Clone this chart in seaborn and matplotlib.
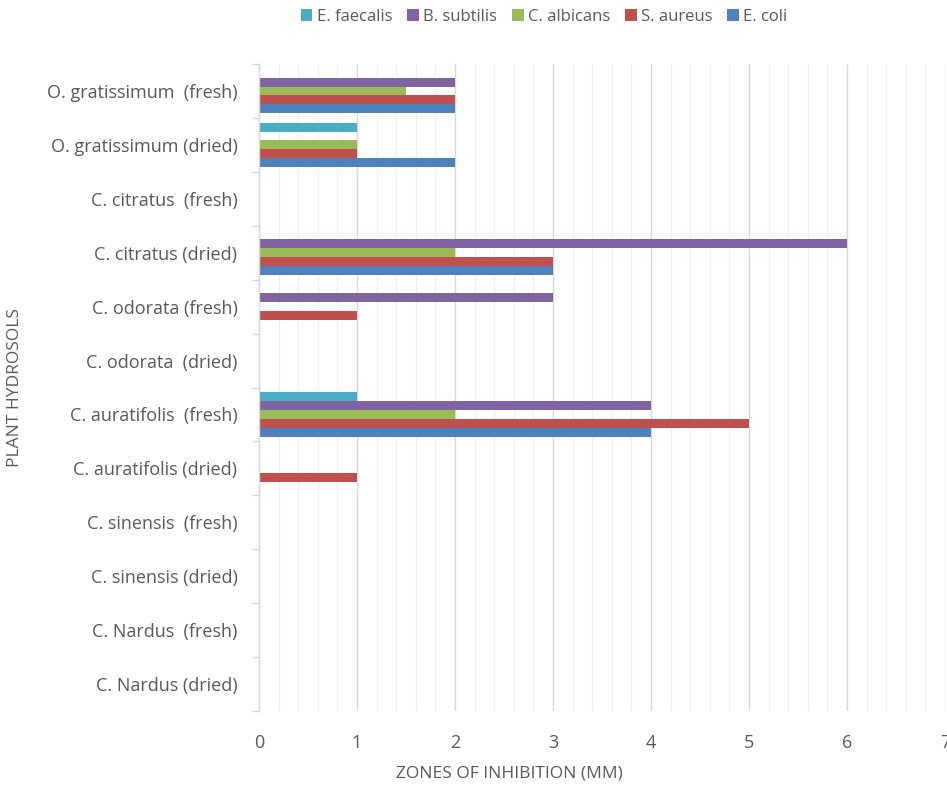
import matplotlib
matplotlib.use("Agg")
import matplotlib.pyplot as plt
from matplotlib.patches import Patch
from matplotlib.ticker import MultipleLocator, FixedLocator
import numpy as np
import pandas as pd
import seaborn as sns

# Plant hydrosols, top to bottom
plants = [
    "O. gratissimum  (fresh)",
    "O. gratissimum (dried)",
    "C. citratus  (fresh)",
    "C. citratus (dried)",
    "C. odorata (fresh)",
    "C. odorata  (dried)",
    "C. auratifolis  (fresh)",
    "C. auratifolis (dried)",
    "C. sinensis  (fresh)",
    "C. sinensis (dried)",
    "C. Nardus  (fresh)",
    "C. Nardus (dried)",
]

# Zones of inhibition (mm) per test organism
e_coli      = [2, 2, 0, 3, 0, 0, 4, 0, 0, 0, 0, 0]
s_aureus    = [2, 1, 0, 3, 1, 0, 5, 1, 0, 0, 0, 0]
c_albicans  = [1.5, 1, 0, 2, 0, 0, 2, 0, 0, 0, 0, 0]
b_subtilis  = [2, 0, 0, 6, 3, 0, 4, 0, 0, 0, 0, 0]
e_faecalis  = [0, 1, 0, 0, 0, 0, 1, 0, 0, 0, 0, 0]

organisms = ["E. faecalis", "B. subtilis", "C. albicans", "S. aureus", "E. coli"]
series = {
    "E. faecalis": e_faecalis,
    "B. subtilis": b_subtilis,
    "C. albicans": c_albicans,
    "S. aureus": s_aureus,
    "E. coli": e_coli,
}
colors = ["#4BACC6", "#8064A2", "#9BBB59", "#C0504D", "#4F81BD"]

rows = []
for org in organisms:
    for plant, v in zip(plants, series[org]):
        rows.append({"plant": plant, "organism": org, "zone": v})
df = pd.DataFrame(rows)

sns.set_style("white")
plt.rcParams["font.family"] = ["Open Sans", "DejaVu Sans"]

fig = plt.figure(figsize=(9.47, 7.85), dpi=100)
ax = fig.add_axes([259 / 947, 1 - 711 / 785, 686 / 947, (711 - 64) / 785])

sns.barplot(
    data=df, x="zone", y="plant", hue="organism",
    order=plants, hue_order=organisms, palette=colors,
    orient="h", width=0.82, linewidth=0, saturation=1,
    errorbar=None, ax=ax, legend=False,
)

ax.set_xlim(0, 7)
ax.set_ylim(len(plants) - 0.5, -0.5)

# gridlines: major every 1 mm, minor every 0.2 mm
ax.xaxis.set_major_locator(MultipleLocator(1))
ax.xaxis.set_minor_locator(MultipleLocator(0.2))
ax.grid(axis="x", which="major", color="#D9D9D9", linewidth=1.0, zorder=0)
ax.grid(axis="x", which="minor", color="#F0F0F0", linewidth=1.0, zorder=0)
ax.set_axisbelow(True)

for s in ["top", "right", "bottom"]:
    ax.spines[s].set_visible(False)
ax.spines["left"].set_color("#D9D9D9")
ax.spines["left"].set_linewidth(1.0)

# category axis: tick marks on the boundaries between groups
ax.yaxis.set_minor_locator(FixedLocator(np.arange(-0.5, len(plants), 1.0)))
ax.tick_params(axis="y", which="minor", left=True, length=5, color="#D9D9D9", width=1)
ax.tick_params(axis="y", which="major", left=False, labelsize=13, labelcolor="#595959", pad=12)
ax.tick_params(axis="x", which="both", bottom=False, labelsize=13, labelcolor="#595959", pad=13)

ax.set_xlabel("")
ax.set_ylabel("")
fig.text(15 / 947, 0.5 * (1 - 64 / 785 + 1 - 711 / 785), "PLANT HYDROSOLS", rotation=90,
         ha="center", va="center", fontsize=12.5, color="#595959")
fig.text(509 / 947, 1 - 773 / 785, "ZONES OF INHIBITION (MM)",
         ha="center", va="center", fontsize=12.5, color="#595959")

handles = [Patch(facecolor=c, edgecolor="none") for c in colors]
fig.legend(handles, organisms, loc="center", bbox_to_anchor=(544 / 947, 1 - 17 / 785),
           ncol=5, frameon=False, fontsize=12, handlelength=0.7, handleheight=0.7,
           handletextpad=0.25, columnspacing=0.9, labelcolor="#595959")

fig.savefig("out.png", dpi=100)
